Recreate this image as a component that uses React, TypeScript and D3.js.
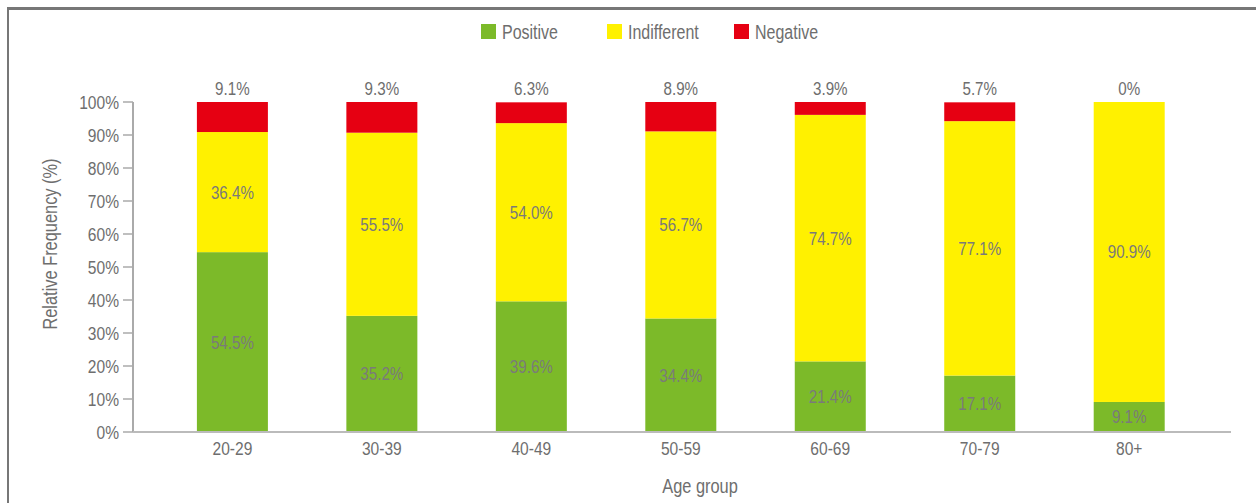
import React from "react";
import * as d3 from "d3";

// Share of responses per age group (percent)
const ageGroups = ["20-29", "30-39", "40-49", "50-59", "60-69", "70-79", "80+"];
const positive = [54.5, 35.2, 39.6, 34.4, 21.4, 17.1, 9.1];
const indifferent = [36.4, 55.5, 54.0, 56.7, 74.7, 77.1, 90.9];
const negative = [9.1, 9.3, 6.3, 8.9, 3.9, 5.7, 0];
const negativeLabels = ["9.1%", "9.3%", "6.3%", "8.9%", "3.9%", "5.7%", "0%"];
const yTicks = [0, 10, 20, 30, 40, 50, 60, 70, 80, 90, 100];

const seriesKeys = ["positive", "indifferent", "negative"] as const;
const seriesNames = ["Positive", "Indifferent", "Negative"];
const colors = ["#7cba29", "#fff100", "#e60012"];

const W = 1256;
const H = 503;
const FONT = "'Liberation Sans', Arial, Helvetica, sans-serif";
const TEXT = "#6e6e6e";
// horizontal compression giving the narrow-sans look
const NARROW = 0.82;

type LabelProps = {
  x: number;
  y: number;
  size: number;
  anchor?: "start" | "middle" | "end";
  dy?: string;
  fill?: string;
  rotate?: number;
  children: React.ReactNode;
};

function Label({ x, y, size, anchor = "start", dy, fill = TEXT, rotate = 0, children }: LabelProps) {
  return (
    <text
      transform={`translate(${x},${y}) rotate(${rotate}) scale(${NARROW},1)`}
      textAnchor={anchor}
      dy={dy}
      fontSize={size}
      fill={fill}
    >
      {children}
    </text>
  );
}

export default function App() {
  const rows = ageGroups.map((g, i) => ({
    group: g,
    positive: positive[i],
    indifferent: indifferent[i],
    negative: negative[i],
  }));

  const x = d3.scalePoint<string>().domain(ageGroups).range([232.4, 1129.2]);
  const barW = 71;
  const y = d3.scaleLinear().domain([0, 100]).range([432, 102]);
  const axisX0 = 133;
  const axisX1 = 1231;

  const stacked = d3.stack<any>().keys(seriesKeys as unknown as string[])(rows);

  const legendX = [481, 607, 734];

  return (
    <svg
      width={W}
      height={H}
      style={{ position: "absolute", left: 0, top: 0, background: "#fff" }}
      fontFamily={FONT}
    >
      {/* frame */}
      <line x1={7} y1={8.5} x2={W} y2={8.5} stroke="#777" strokeWidth={3} />
      <line x1={8} y1={7} x2={8} y2={H} stroke="#777" strokeWidth={2} />

      {/* legend */}
      {seriesNames.map((name, i) => (
        <g key={name}>
          <rect x={legendX[i]} y={24} width={15} height={15} fill={colors[i]} />
          <Label x={legendX[i] + 21} y={39} size={19.5}>
            {name}
          </Label>
        </g>
      ))}

      {/* stacked bars */}
      {stacked.map((layer, si) => (
        <g key={layer.key} fill={colors[si]}>
          {layer.map((d, i) =>
            d[1] - d[0] > 0 ? (
              <rect
                key={i}
                x={(x(ageGroups[i]) as number) - barW / 2}
                y={y(d[1])}
                width={barW}
                height={y(d[0]) - y(d[1])}
              />
            ) : null
          )}
        </g>
      ))}

      {/* in-bar labels for positive and indifferent */}
      {stacked.slice(0, 2).map((layer, si) => (
        <g key={"lab" + layer.key}>
          {layer.map((d, i) => (
            <Label
              key={i}
              x={x(ageGroups[i]) as number}
              y={(y(d[0]) + y(d[1])) / 2}
              dy="0.35em"
              anchor="middle"
              size={18.5}
              fill="#7a7a7a"
            >
              {(si === 0 ? positive[i] : indifferent[i]).toFixed(1)}%
            </Label>
          ))}
        </g>
      ))}

      {/* negative share above each bar */}
      {stacked[2].map((d, i) => (
        <Label
          key={"neg" + i}
          x={x(ageGroups[i]) as number}
          y={y(d[1]) - 7}
          anchor="middle"
          size={18.5}
        >
          {negativeLabels[i]}
        </Label>
      ))}

      {/* y axis */}
      <line x1={axisX0} y1={y(100)} x2={axisX0} y2={y(0)} stroke="#aaa" strokeWidth={2} />
      {yTicks.map((t) => (
        <g key={t}>
          <line
            x1={axisX0 - 10}
            x2={axisX0}
            y1={y(t)}
            y2={y(t)}
            stroke="#aaa"
            strokeWidth={1.5}
          />
          <Label x={axisX0 - 14} y={y(t)} dy="0.35em" anchor="end" size={19}>
            {t}%
          </Label>
        </g>
      ))}

      {/* x axis */}
      <line x1={axisX0} y1={y(0)} x2={axisX1} y2={y(0)} stroke="#bbb" strokeWidth={2} />
      {ageGroups.map((g) => (
        <Label key={g} x={x(g) as number} y={455} anchor="middle" size={19}>
          {g}
        </Label>
      ))}

      {/* axis titles */}
      <Label x={700} y={493} anchor="middle" size={20}>
        Age group
      </Label>
      <Label x={57} y={244} anchor="middle" size={20} rotate={-90}>
        Relative Frequency (%)
      </Label>
    </svg>
  );
}
